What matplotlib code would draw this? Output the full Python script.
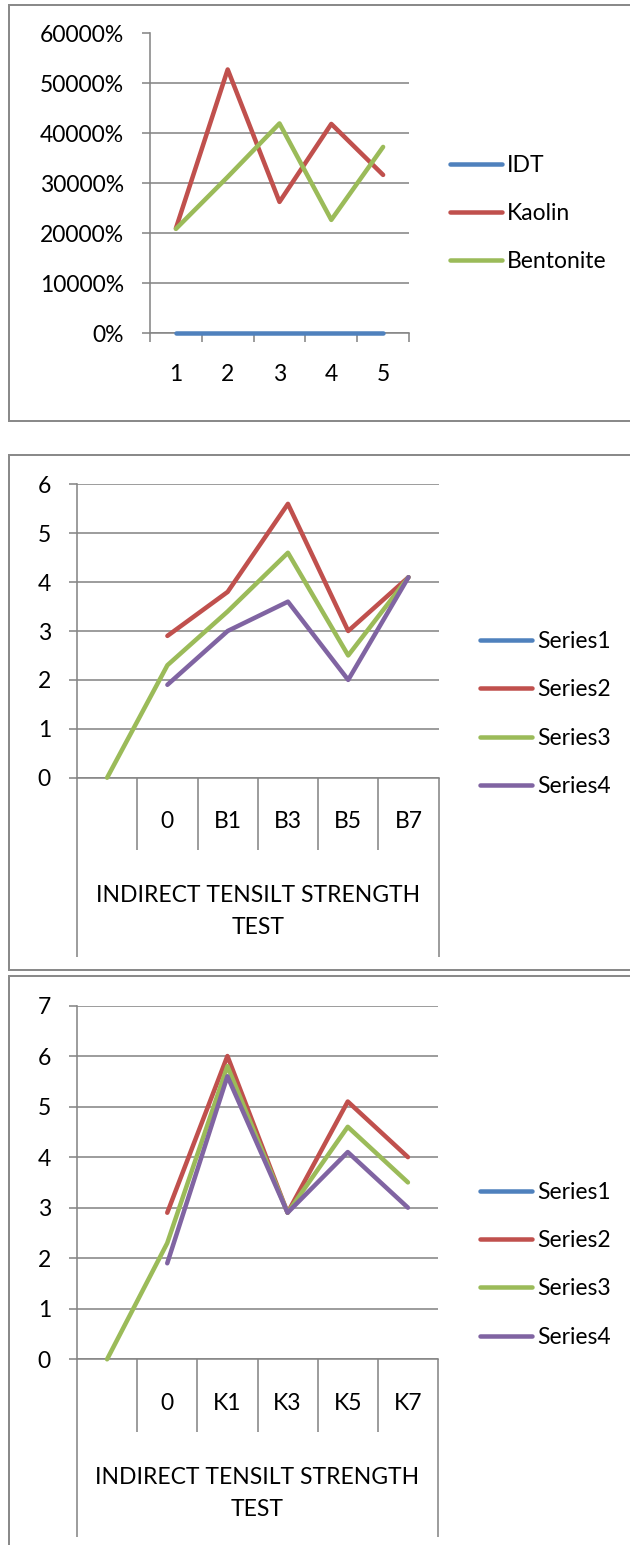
import numpy as np
import matplotlib
matplotlib.use("Agg")
import matplotlib.pyplot as plt
from matplotlib.lines import Line2D
from matplotlib.transforms import Affine2D

# ---------------- data ----------------
p1_categories = ["1", "2", "3", "4", "5"]
p1_names = ["IDT", "Kaolin", "Bentonite"]
p1_idt = [0, 0, 0, 0, 0]
p1_kaolin = [210, 528, 263, 419, 317]
p1_bentonite = [209, 313, 420, 227, 373]
p1_yticks = [0, 100, 200, 300, 400, 500, 600]

p2_categories = ["", "0", "B1", "B3", "B5", "B7"]
p2_names = ["Series1", "Series2", "Series3", "Series4"]
p2_s1 = [np.nan, np.nan, np.nan, np.nan, np.nan, np.nan]
p2_s2 = [np.nan, 2.9, 3.8, 5.6, 3.0, 4.1]
p2_s3 = [0, 2.3, 3.4, 4.6, 2.5, 4.1]
p2_s4 = [np.nan, 1.9, 3.0, 3.6, 2.0, 4.1]
p2_yticks = [0, 1, 2, 3, 4, 5, 6]

p3_categories = ["", "0", "K1", "K3", "K5", "K7"]
p3_names = ["Series1", "Series2", "Series3", "Series4"]
p3_s1 = [np.nan, np.nan, np.nan, np.nan, np.nan, np.nan]
p3_s2 = [np.nan, 2.9, 6.0, 2.9, 5.1, 4.0]
p3_s3 = [0, 2.3, 5.8, 2.9, 4.6, 3.5]
p3_s4 = [np.nan, 1.9, 5.6, 2.9, 4.1, 3.0]
p3_yticks = [0, 1, 2, 3, 4, 5, 6, 7]

group_label = ["INDIRECT TENSILT STRENGTH", "TEST"]

# ---------------- style ----------------
W, H, DPI = 630, 1545, 100
PT = 72.0 / DPI
COLORS = ["#4F81BD", "#C0504D", "#9BBB59", "#8064A2"]
GRID = "#868686"
FRAME = "#8a8a8a"
FS = 16.5
FONT = "Lato"
plt.rcParams["font.family"] = [FONT, "DejaVu Sans"]

fig = plt.figure(figsize=(W / DPI, H / DPI), dpi=DPI)
pix = Affine2D().scale(1.0 / W, -1.0 / H).translate(0, 1) + fig.transFigure


def add_axes_px(left, top, right, bottom):
    return fig.add_axes([left / W, 1 - bottom / H, (right - left) / W, (bottom - top) / H])


def fline(xs, ys, color=FRAME, lw=2.0):
    fig.add_artist(Line2D(xs, ys, transform=pix, color=color, lw=lw * PT,
                          solid_capstyle="butt"))


def style_axes(ax, yticks, fmt=None):
    for s in ["top", "right"]:
        ax.spines[s].set_visible(False)
    for s in ["left", "bottom"]:
        ax.spines[s].set_color(GRID)
        ax.spines[s].set_linewidth(1.6 * PT)
    ax.set_ylim(yticks[0], yticks[-1])
    ax.set_yticks(yticks)
    if fmt:
        ax.set_yticklabels([fmt(v) for v in yticks])
    ax.yaxis.grid(True, color=GRID, lw=1.6 * PT)
    ax.tick_params(axis="y", length=8 * PT, width=1.6 * PT, color=GRID,
                   pad=18 * PT, labelsize=FS)
    ax.set_facecolor("none")


def legend_px(names, x0, x1, ys):
    for i, (name, y) in enumerate(zip(names, ys)):
        fig.add_artist(Line2D([x0, x1], [y, y], transform=pix, color=COLORS[i],
                              lw=4.5 * PT, solid_capstyle="round"))
        fig.text((x1 + 5) / W, 1 - (y + 8.3) / H, name, fontsize=FS,
                 va="baseline", ha="left")


# ---------------- panel 1 ----------------
fline([9, 640], [4.5, 4.5])
fline([9, 9], [3.5, 422])
fline([8, 640], [421, 421])

ax1 = add_axes_px(150, 33.5, 409, 333.3)
style_axes(ax1, p1_yticks, lambda v: f"{v * 100:.0f}%")
x1 = np.arange(len(p1_categories))
for i, vals in enumerate([p1_idt, p1_kaolin, p1_bentonite]):
    ax1.plot(x1, vals, color=COLORS[i], lw=4.5 * PT, zorder=3, clip_on=False,
             solid_capstyle="round")
ax1.set_xlim(-0.5, len(p1_categories) - 0.5)
ax1.set_xticks(x1)
ax1.set_xticklabels(p1_categories)
ax1.set_xticks(np.arange(len(p1_categories) + 1) - 0.5, minor=True)
ax1.tick_params(axis="x", which="major", length=0, pad=31 * PT, labelsize=FS)
ax1.tick_params(axis="x", which="minor", length=9 * PT, width=1.6 * PT, color=GRID)
legend_px(p1_names, 450, 502, [164, 212, 260])


# ---------------- panels 2 and 3 ----------------
def multilevel_panel(top_frame, bot_frame, box, cats, series, names, yticks,
                     inner_bottom, long_bottom, inner_base, grp_base, leg_ys):
    fline([9, 640], [top_frame, top_frame])
    fline([9, 9], [top_frame - 1, bot_frame + 1 if bot_frame else H + 5])
    if bot_frame:
        fline([8, 640], [bot_frame, bot_frame])
    left, top, right, bottom = box
    ax = add_axes_px(left, top, right, bottom)
    style_axes(ax, yticks)
    n = len(cats)
    x = np.arange(n)
    for i, vals in enumerate(series):
        ax.plot(x, vals, color=COLORS[i], lw=4.5 * PT, zorder=3, clip_on=False,
                solid_capstyle="round")
    ax.set_xlim(-0.5, n - 0.5)
    ax.set_xticks([])
    tr = ax.get_xaxis_transform()

    def yf(py):
        return (bottom - py) / (bottom - top)

    bounds = np.arange(n + 1) - 0.5
    for b in bounds:
        if b in (bounds[0], bounds[-1]):
            yb = long_bottom
        else:
            yb = inner_bottom
        ax.plot([b, b], [0, yf(yb)], transform=tr, color=GRID, lw=1.6 * PT,
                clip_on=False, solid_capstyle="butt")
    for xi, c in zip(x, cats):
        ax.text(xi, yf(inner_base), c, transform=tr, ha="center", va="baseline",
                fontsize=FS)
    for line, yb in zip(group_label, grp_base):
        ax.text((n - 1) / 2, yf(yb), line, transform=tr, ha="center",
                va="baseline", fontsize=FS)
    legend_px(names, 480, 532, leg_ys)
    return ax


multilevel_panel(455, 970, (77, 484.3, 438.6, 777.7), p2_categories,
                 [p2_s1, p2_s2, p2_s3, p2_s4], p2_names, p2_yticks,
                 850, 957, 828.5, [902, 933.5], [640, 688, 737, 785])

multilevel_panel(976, None, (77, 1005.5, 438, 1359.3), p3_categories,
                 [p3_s1, p3_s2, p3_s3, p3_s4], p3_names, p3_yticks,
                 1432, 1537, 1409.5, [1484, 1516], [1191, 1239, 1287, 1336])

fig.savefig("out.png", dpi=DPI, facecolor="white")
